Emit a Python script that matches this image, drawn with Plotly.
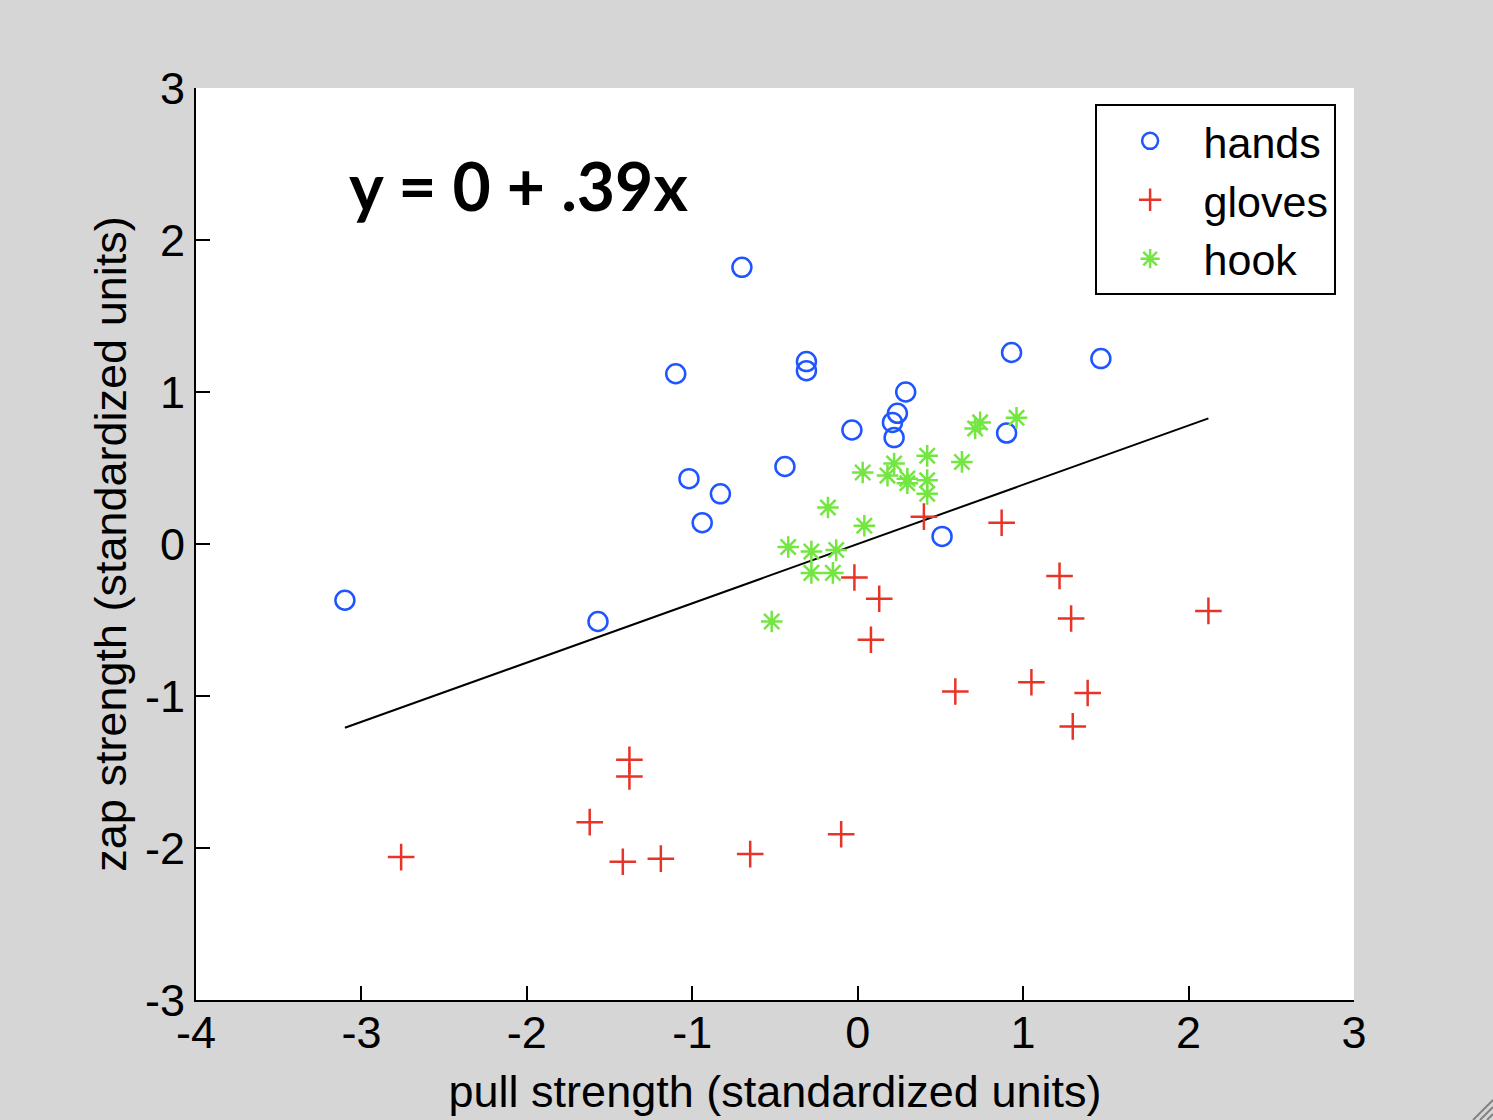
import plotly.graph_objects as go

# hands (blue circles)
hands_x = [-3.10, -1.57, -0.70, -1.10, -1.02, -0.94, -0.83, -0.44, -0.31, -0.31,
           -0.035, 0.29, 0.24, 0.21, 0.22, 0.93, 0.90, 0.51, 1.47]
hands_y = [-0.37, -0.51, 1.82, 1.12, 0.43, 0.14, 0.33, 0.51, 1.20, 1.14,
           0.75, 1.00, 0.86, 0.80, 0.70, 1.26, 0.73, 0.05, 1.22]

# gloves (red plus)
gloves_x = [-2.76, -1.62, -1.38, -1.38, -1.42, -1.19, -0.65, -0.10, -0.02, 0.13,
            0.08, 0.40, 0.87, 0.59, 1.05, 1.22, 1.29, 1.39, 1.30, 2.12]
gloves_y = [-2.06, -1.83, -1.42, -1.53, -2.09, -2.07, -2.04, -1.91, -0.22, -0.36,
            -0.63, 0.18, 0.14, -0.97, -0.91, -0.21, -0.49, -0.98, -1.20, -0.44]

# hook (green asterisk)
hook_x = [-0.42, -0.28, -0.13, -0.28, -0.15, -0.52, -0.18, 0.04, 0.03, 0.18,
          0.22, 0.30, 0.30, 0.42, 0.42, 0.42, 0.63, 0.74, 0.71, 0.96]
hook_y = [-0.02, -0.05, -0.04, -0.19, -0.19, -0.51, 0.24, 0.12, 0.47, 0.45,
          0.53, 0.43, 0.40, 0.58, 0.42, 0.33, 0.54, 0.80, 0.76, 0.83]

# regression line y = intercept + slope * x
intercept = 0.0
slope = 0.39
line_x = [-3.10, 2.12]
line_y = [intercept + slope * v for v in line_x]

x_ticks = [-4, -3, -2, -1, 0, 1, 2, 3]
y_ticks = [-3, -2, -1, 0, 1, 2, 3]

FONT = "Liberation Sans, Arial, sans-serif"
FS = 45

fig = go.Figure()
fig.add_trace(go.Scatter(x=line_x, y=line_y, mode="lines",
                         line=dict(color="black", width=2), showlegend=False))
fig.add_trace(go.Scatter(x=hands_x, y=hands_y, mode="markers", name="hands",
                         marker=dict(symbol="circle-open", size=19,
                                     color="rgb(30,85,255)", line=dict(width=2.5))))
fig.add_trace(go.Scatter(x=gloves_x, y=gloves_y, mode="markers", name="gloves",
                         marker=dict(symbol="cross-thin-open", size=19,
                                     color="rgb(232,52,40)", line=dict(width=2.5,
                                     color="rgb(232,52,40)"))))
fig.add_trace(go.Scatter(x=hook_x, y=hook_y, mode="markers", name="hook",
                         marker=dict(symbol="asterisk-open", size=18,
                                     color="rgb(115,230,65)", line=dict(width=2.5,
                                     color="rgb(115,230,65)"))))

fig.add_annotation(x=0.130, y=0.893, xref="paper", yref="paper",
                   text="<b>y = 0 + .39x</b>", showarrow=False,
                   xanchor="left", yanchor="middle",
                   font=dict(family="Lato, Open Sans, sans-serif", size=66, color="black"))

# window resize grip (bottom-right corner decoration)
def px2paper(px, py):
    return (px - 196) / 1158, (1000 - py) / 912

for k in range(3):
    off = 6 + 7 * k
    x0, y0 = px2paper(1493 - off, 1120)
    x1, y1 = px2paper(1493, 1120 - off)
    fig.add_shape(type="line", xref="paper", yref="paper", x0=x0, y0=y0, x1=x1, y1=y1,
                  line=dict(color="rgb(130,130,130)", width=2), layer="above")

axis_common = dict(showgrid=False, zeroline=False, showline=True, linecolor="black",
                   linewidth=2, ticks="inside", ticklen=14, tickwidth=2,
                   tickcolor="black", mirror=False, automargin=False,
                   tickfont=dict(family=FONT, size=FS, color="black"),
                   title_font=dict(family=FONT, size=FS, color="black"))

fig.update_xaxes(range=[-4, 3], tickvals=x_ticks, ticktext=[str(v) for v in x_ticks],
                 title_text="pull strength (standardized units)", title_standoff=18,
                 ticklabelstandoff=-8, **axis_common)
fig.update_yaxes(range=[-3, 3], tickvals=y_ticks, ticktext=[str(v) for v in y_ticks],
                 title_text="zap strength (standardized units)", title_standoff=4,
                 ticklabelstandoff=0, **axis_common)

fig.update_layout(
    width=1493, height=1120,
    margin=dict(l=196, r=139, t=88, b=120),
    paper_bgcolor="rgb(214,214,214)",
    plot_bgcolor="white",
    legend=dict(x=0.776, y=0.982, xanchor="left", yanchor="top",
                bgcolor="white", bordercolor="black", borderwidth=2,
                font=dict(family=FONT, size=43, color="black"),
                itemwidth=97, tracegroupgap=0),
)

fig.write_html("out.html")
